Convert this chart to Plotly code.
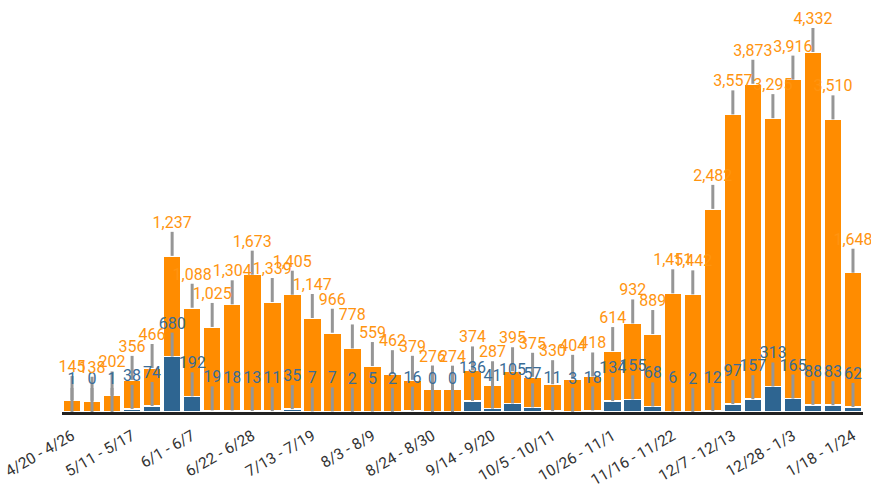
import plotly.graph_objects as go

weeks = ["4/20 - 4/26", "4/27 - 5/3", "5/4 - 5/10", "5/11 - 5/17", "5/18 - 5/24", "5/25 - 5/31",
         "6/1 - 6/7", "6/8 - 6/14", "6/15 - 6/21", "6/22 - 6/28", "6/29 - 7/5", "7/6 - 7/12",
         "7/13 - 7/19", "7/20 - 7/26", "7/27 - 8/2", "8/3 - 8/9", "8/10 - 8/16", "8/17 - 8/23",
         "8/24 - 8/30", "8/31 - 9/6", "9/7 - 9/13", "9/14 - 9/20", "9/21 - 9/27", "9/28 - 10/4",
         "10/5 - 10/11", "10/12 - 10/18", "10/19 - 10/25", "10/26 - 11/1", "11/2 - 11/8", "11/9 - 11/15",
         "11/16 - 11/22", "11/23 - 11/29", "11/30 - 12/6", "12/7 - 12/13", "12/14 - 12/20", "12/21 - 12/27",
         "12/28 - 1/3", "1/4 - 1/10", "1/11 - 1/17", "1/18 - 1/24"]

orange_vals = [145, 138, 202, 356, 466, 1237, 1088, 1025, 1304, 1673, 1339, 1405, 1147, 966, 778,
               559, 462, 379, 276, 274, 374, 287, 395, 375, 330, 404, 418, 614, 932, 889,
               1451, 1442, 2482, 3557, 3873, 3295, 3916, 4332, 3510, 1648]

blue_vals = [1, 0, 1, 38, 74, 680, 192, 19, 18, 13, 11, 35, 7, 7, 2, 5, 2, 16, 0, 0,
             136, 41, 105, 57, 11, 3, 18, 134, 155, 68, 6, 2, 12, 97, 157, 313, 165, 88, 83, 62]

tick_weeks = weeks[::3]

BLUE = "#2e6591"
ORANGE = "#ff8c00"
GREY = "#969696"
OFFSET = 295  # leader line length in data units
FONT = "Roboto, sans-serif"

totals = [b + o for b, o in zip(blue_vals, orange_vals)]

def leader(x, y0):
    xs, ys = [], []
    for xi, yi in zip(x, y0):
        xs += [xi, xi, None]
        ys += [yi, yi + OFFSET, None]
    return xs, ys

fig = go.Figure()
fig.add_trace(go.Bar(x=weeks, y=blue_vals, marker=dict(color=BLUE, line=dict(color="white", width=1.5)),
                     hoverinfo="skip"))
fig.add_trace(go.Bar(x=weeks, y=orange_vals, marker=dict(color=ORANGE, line=dict(color="white", width=1.5)),
                     hoverinfo="skip"))

bx, by = leader(weeks, blue_vals)
ox, oy = leader(weeks, totals)
fig.add_trace(go.Scatter(x=bx, y=by, mode="lines", line=dict(color=GREY, width=3), hoverinfo="skip"))
fig.add_trace(go.Scatter(x=ox, y=oy, mode="lines", line=dict(color=GREY, width=3), hoverinfo="skip"))

fig.add_trace(go.Scatter(x=weeks, y=[v + OFFSET for v in blue_vals], mode="text",
                         text=[f"{v:,}" for v in blue_vals], textposition="top center",
                         textfont=dict(color="#3a6c96", size=16, family=FONT), cliponaxis=False,
                         hoverinfo="skip"))
fig.add_trace(go.Scatter(x=weeks, y=[v + OFFSET for v in totals], mode="text",
                         text=[f"{v:,}" for v in orange_vals], textposition="top center",
                         textfont=dict(color="#ff9410", size=16, family=FONT), cliponaxis=False,
                         hoverinfo="skip"))

fig.update_layout(
    width=871, height=486,
    margin=dict(l=62, r=8, t=10, b=74),
    barmode="stack", bargap=0.1,
    showlegend=False,
    plot_bgcolor="white", paper_bgcolor="white",
    font=dict(family=FONT),
)
fig.update_xaxes(type="category", tickmode="array", tickvals=tick_weeks, ticktext=tick_weeks,
                 range=[-0.5, len(weeks) - 0.5],
                 tickangle=-30, tickfont=dict(size=15.5, color="#333333", family=FONT),
                 ticklabelstandoff=6,
                 showline=True, linecolor="#222222", linewidth=3, ticks="", showgrid=False,
                 automargin=False)
fig.update_yaxes(range=[0, 4936], visible=False, showgrid=False, zeroline=False, automargin=False)

fig.write_html("out.html", config={"displayModeBar": False},
               post_script="document.body.style.margin='0';")
